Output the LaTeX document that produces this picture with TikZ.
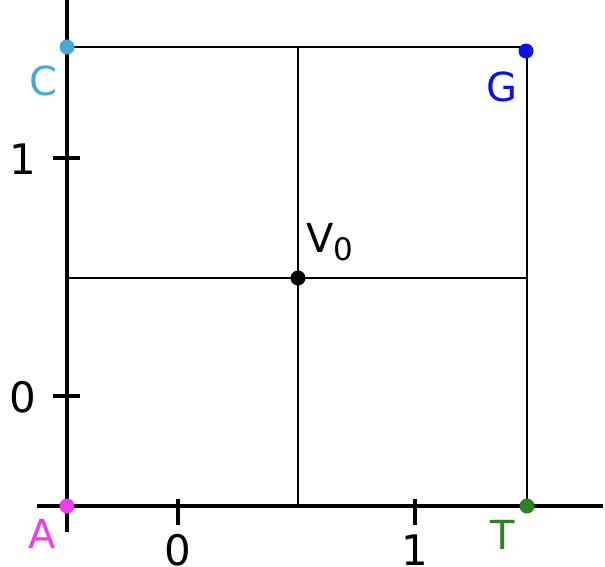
\documentclass[tikz,border=0pt]{standalone}
\usepackage{fontspec}
\setmainfont{DejaVu Sans}
\definecolor{cC}{HTML}{4AA8D8}
\definecolor{cG}{HTML}{0A10E8}
\definecolor{cA}{HTML}{EE3CEE}
\definecolor{cT}{HTML}{2F7F25}
\begin{document}
\begin{tikzpicture}[x=1pt,y=-1pt,
  axis/.style={line width=3.4pt,black},
  grid/.style={line width=2pt,black},
  dot/.style={circle,inner sep=0pt,minimum size=15pt,fill=#1},
  lab/.style={font=\fontsize{40}{42}\selectfont,text=#1,inner sep=0pt},
  tk/.style={font=\fontsize{42}{44}\selectfont,inner sep=0pt}]
\useasboundingbox (0,0) rectangle (605,566);
% corner coordinates
\coordinate (pA) at (67,506);
\coordinate (pC) at (67,47);
\coordinate (pG) at (527,47);
\coordinate (pT) at (527,506);
\coordinate (pV) at (298,278);
\coordinate (mL) at (67,278);
\coordinate (mR) at (527,278);
\coordinate (mT) at (298,47);
\coordinate (mB) at (298,506);
% axes
\coordinate (xs) at (37,506);
\coordinate (xe) at (603,506);
\coordinate (ys) at (67,532);
\coordinate (ye) at (67,0);
% grid
\draw[grid] (pC) -- (pG) -- (pT);
\draw[grid] (mL) -- (mR);
\draw[grid] (mT) -- (mB);
\draw[axis] (xs) -- (xe);
\draw[axis] (ys) -- (ye);
% ticks
\coordinate (tx0a) at (178,499); \coordinate (tx0b) at (178,525);
\coordinate (tx1a) at (415,499); \coordinate (tx1b) at (415,525);
\coordinate (ty0a) at (53,396); \coordinate (ty0b) at (80,396);
\coordinate (ty1a) at (53,158); \coordinate (ty1b) at (80,158);
\draw[axis] (tx0a) -- (tx0b);
\draw[axis] (tx1a) -- (tx1b);
\draw[axis] (ty0a) -- (ty0b);
\draw[axis] (ty1a) -- (ty1b);
\node[tk] (lx0) at (178,550) {0};
\node[tk] (lx1) at (415,550) {1};
\node[tk] (ly0) at (23,397) {0};
\node[tk] (ly1) at (23,159) {1};
% dots
\node[dot=cA] (dA) at (pA) {};
\node[dot=cC] (dC) at (pC) {};
\node[dot=cG] (dG) at (526,51) {};
\node[dot=cT] (dT) at (pT) {};
\node[dot=black] (dV) at (pV) {};
% labels
\node[lab=cA] (A) at (42,534) {A};
\node[lab=cC] (C) at (43,81) {C};
\node[lab=cG] (G) at (502,87) {G};
\node[lab=cT] (T) at (503,535) {T};
\node[lab=black,anchor=west] (V) at (306,242) {V\raisebox{-0.35ex}{\fontsize{31}{33}\selectfont 0}};
\end{tikzpicture}
\end{document}
